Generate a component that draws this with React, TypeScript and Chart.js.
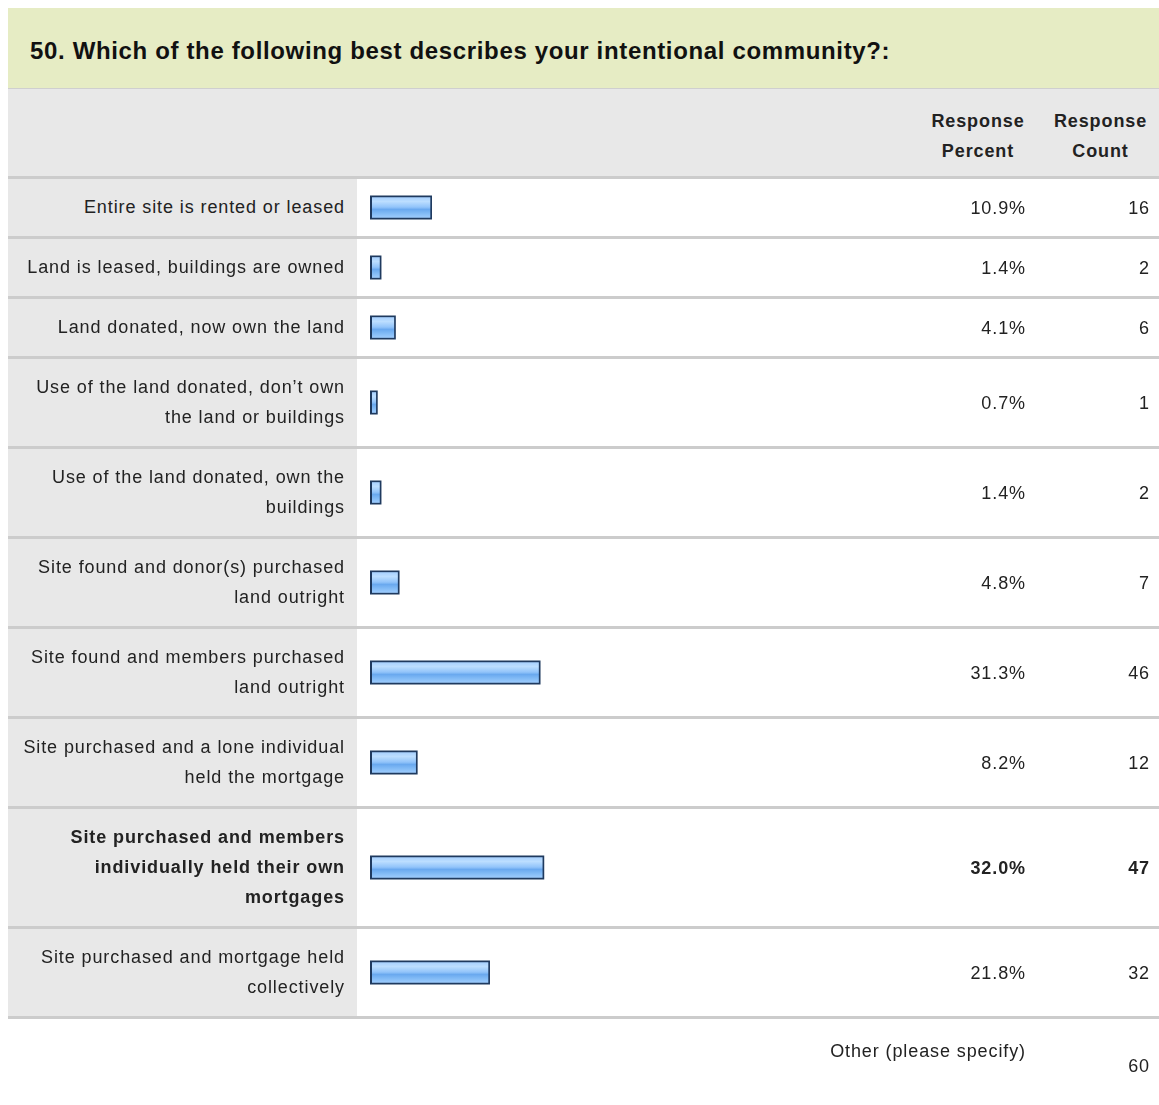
import React, { useEffect, useRef } from "react";
import { Chart, registerables } from "chart.js";

Chart.register(...registerables);

// ---------- data ----------
const TITLE = "50. Which of the following best describes your intentional community?:";
const categories: string[][] = [
  ["Entire site is rented or leased"],
  ["Land is leased, buildings are owned"],
  ["Land donated, now own the land"],
  ["Use of the land donated, don’t own", "the land or buildings"],
  ["Use of the land donated, own the", "buildings"],
  ["Site found and donor(s) purchased", "land outright"],
  ["Site found and members purchased", "land outright"],
  ["Site purchased and a lone individual", "held the mortgage"],
  ["Site purchased and members", "individually held their own", "mortgages"],
  ["Site purchased and mortgage held", "collectively"],
];
const responsePercent = [10.9, 1.4, 4.1, 0.7, 1.4, 4.8, 31.3, 8.2, 32.0, 21.8];
const responseCount = [16, 2, 6, 1, 2, 7, 46, 12, 47, 32];
const highlightedIndex = 8;
const columnHeaders: string[][] = [
  ["Response", "Percent"],
  ["Response", "Count"],
];
const otherLabel = "Other (please specify)";
const otherCount = 60;

// ---------- styles ----------
const FONT = '"Liberation Sans", Arial, Helvetica, sans-serif';
const TEXT = "#222222";
const LABEL_BG = "#e8e8e8";
const SEP = "#cccccc";
const LABEL_W = 349;
const BAR_W = 561;
const PCT_W = 120;
const CNT_W = 121;
const TOTAL_W = LABEL_W + BAR_W + PCT_W + CNT_W;

const outlinePlugin = {
  id: "barOutline",
  beforeDatasetsDraw(chart: any) {
    const ctx = chart.ctx;
    chart.getDatasetMeta(0).data.forEach((el: any) => {
      const { x, y, base, height } = el.getProps(["x", "y", "base", "height"], true);
      ctx.save();
      ctx.fillStyle = "#1f3a5f";
      ctx.fillRect(base - 2, y - height / 2 - 2, x - base + 4, height + 4);
      ctx.restore();
    });
  },
};

function barGradient(c: any) {
  const chart = c.chart;
  const a = chart.chartArea;
  if (!a) return "#8dc0f8";
  const cy = (a.top + a.bottom) / 2;
  const g = chart.ctx.createLinearGradient(0, cy - 10, 0, cy + 10);
  g.addColorStop(0, "#a9d2ff");
  g.addColorStop(0.2, "#bcdeff");
  g.addColorStop(0.48, "#92c4fa");
  g.addColorStop(0.6, "#6aa9ef");
  g.addColorStop(0.8, "#82bbf6");
  g.addColorStop(1, "#9ccbfd");
  return g;
}

function BarCell({ value, label, height }: { value: number; label: string; height: number }) {
  const ref = useRef<HTMLCanvasElement | null>(null);
  useEffect(() => {
    if (!ref.current) return;
    const chart = new Chart(ref.current, {
      type: "bar",
      data: {
        labels: [label],
        datasets: [
          {
            data: [value],
            backgroundColor: barGradient as any,
            borderWidth: 0,
            barThickness: 20,
          },
        ],
      },
      options: {
        indexAxis: "y",
        responsive: false,
        maintainAspectRatio: false,
        animation: false,
        layout: { padding: { left: 15, right: 14, top: 0, bottom: 0 } },
        scales: {
          x: { min: 0, max: 100, display: false },
          y: { display: false },
        },
        plugins: { legend: { display: false }, tooltip: { enabled: false } },
      },
      plugins: [outlinePlugin],
    });
    return () => chart.destroy();
  }, [value, label, height]);
  return (
    <canvas
      ref={ref}
      width={BAR_W}
      height={height}
      style={{ display: "block", width: BAR_W, height }}
    />
  );
}

export default function App() {
  const baseText: React.CSSProperties = {
    fontFamily: FONT,
    fontSize: 18,
    letterSpacing: "0.9px",
    color: TEXT,
    lineHeight: "30px",
  };

  return (
    <div
      style={{
        position: "absolute",
        left: 8,
        top: 8,
        width: TOTAL_W,
        fontFamily: FONT,
      }}
    >
      {/* title banner */}
      <div
        style={{
          width: TOTAL_W,
          height: 81,
          background: "#e6ecc4",
          borderBottom: "1px solid #cfcfcf",
          display: "flex",
          alignItems: "center",
          paddingLeft: 22,
          boxSizing: "border-box",
        }}
      >
        <span
          style={{
            fontFamily: FONT,
            fontWeight: "bold",
            fontSize: 24,
            letterSpacing: "0.65px",
            color: "#111",
            marginTop: 5,
            whiteSpace: "nowrap",
          }}
        >
          {TITLE}
        </span>
      </div>

      {/* header row */}
      <div
        style={{
          width: TOTAL_W,
          height: 87,
          background: LABEL_BG,
          borderBottom: `3px solid ${SEP}`,
          display: "flex",
          alignItems: "center",
        }}
      >
        <div style={{ width: LABEL_W + BAR_W, flexShrink: 0 }} />
        {columnHeaders.map((h, i) => (
          <div
            key={i}
            style={{
              ...baseText,
              fontWeight: "bold",
              width: i === 0 ? PCT_W : CNT_W,
              flexShrink: 0,
              textAlign: "center",
              paddingLeft: i === 1 ? 4 : 0,
              boxSizing: "border-box",
              marginTop: 6,
            }}
          >
            {h.map((l, j) => (
              <div key={j}>{l}</div>
            ))}
          </div>
        ))}
      </div>

      {/* data rows */}
      {categories.map((lines, i) => {
        const h = 30 * lines.length + 27;
        const bold = i === highlightedIndex;
        const t: React.CSSProperties = { ...baseText, fontWeight: bold ? "bold" : "normal" };
        return (
          <div
            key={i}
            style={{
              width: TOTAL_W,
              display: "flex",
              height: h,
              borderBottom: `3px solid ${SEP}`,
              background: "#ffffff",
            }}
          >
            <div
              style={{
                ...t,
                width: LABEL_W,
                flexShrink: 0,
                background: LABEL_BG,
                textAlign: "right",
                paddingTop: 13,
                paddingRight: 12,
                boxSizing: "border-box",
              }}
            >
              {lines.map((l, j) => (
                <div key={j} style={{ whiteSpace: "nowrap" }}>
                  {l}
                </div>
              ))}
            </div>
            <div style={{ width: BAR_W, flexShrink: 0 }}>
              <BarCell value={responsePercent[i]} label={lines.join(" ")} height={h} />
            </div>
            <div
              style={{
                ...t,
                width: PCT_W,
                flexShrink: 0,
                paddingRight: 12,
                boxSizing: "border-box",
                display: "flex",
                alignItems: "center",
                justifyContent: "flex-end",
              }}
            >
              {responsePercent[i].toFixed(1)}%
            </div>
            <div
              style={{
                ...t,
                width: CNT_W,
                flexShrink: 0,
                paddingRight: 9,
                boxSizing: "border-box",
                display: "flex",
                alignItems: "center",
                justifyContent: "flex-end",
              }}
            >
              {responseCount[i]}
            </div>
          </div>
        );
      })}

      {/* other row */}
      <div style={{ width: TOTAL_W, display: "flex", height: 70 }}>
        <div
          style={{
            ...baseText,
            width: LABEL_W + BAR_W + PCT_W,
            flexShrink: 0,
            textAlign: "right",
            paddingRight: 12,
            paddingTop: 17,
            boxSizing: "border-box",
          }}
        >
          {otherLabel}
        </div>
        <div
          style={{
            ...baseText,
            width: CNT_W,
            flexShrink: 0,
            textAlign: "right",
            paddingRight: 9,
            paddingTop: 32,
            boxSizing: "border-box",
          }}
        >
          {otherCount}
        </div>
      </div>
    </div>
  );
}
